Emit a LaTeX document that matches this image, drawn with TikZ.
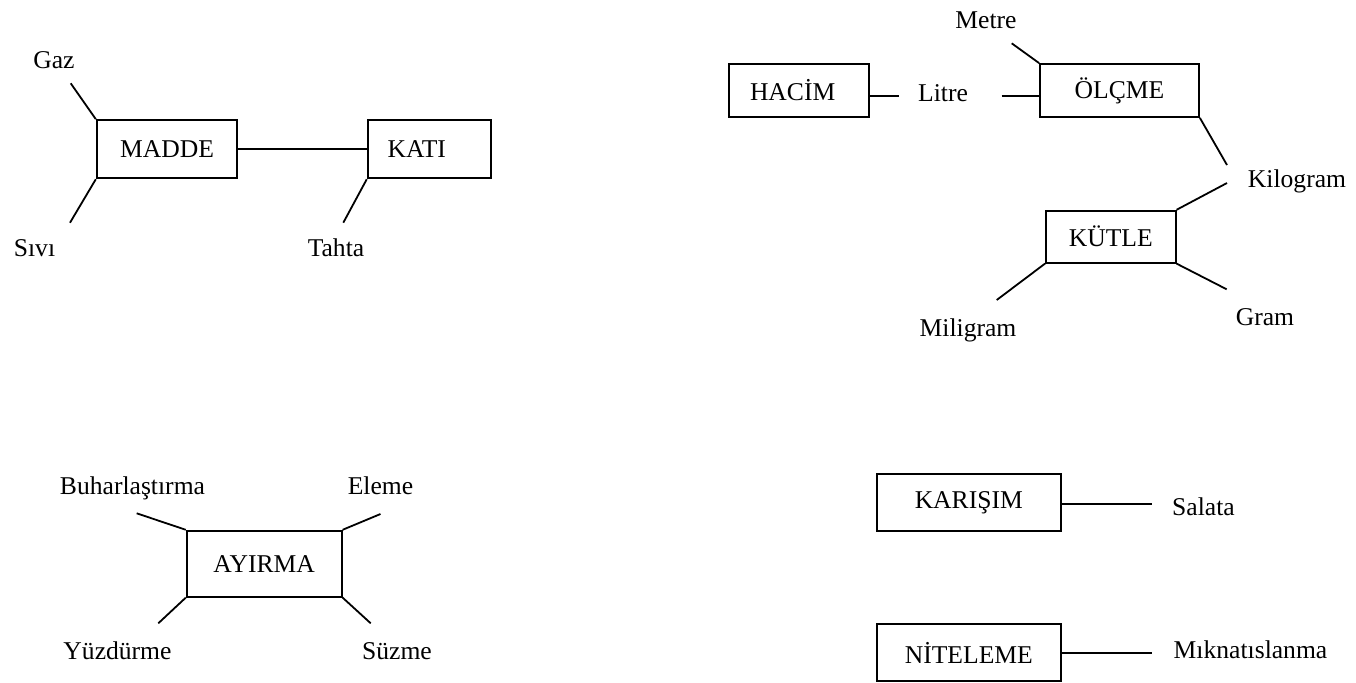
\documentclass[tikz,border=0pt]{standalone}
\usepackage{fontspec}
\setmainfont{Liberation Serif}
\newcommand\lbl{\fontsize{12.8}{15}\selectfont}
\tikzset{
  box/.style={draw, line width=0.9pt, inner sep=0pt, font=\lbl},
  leftbox/.style={box, align=left, inner xsep=#1*0.5pt},
  word/.style={inner sep=0pt, anchor=base, font=\lbl},
  link/.style={line width=0.9pt},
}
\begin{document}
\begin{tikzpicture}[x=0.5pt, y=-0.5pt]
\useasboundingbox (0,0) rectangle (1356,682);

% ---- MADDE / KATI ----
\node[box, minimum width=70.3pt, minimum height=29.15pt] (madde) at (167,149.2) {MADDE};
\node[leftbox=20, text width=41.65pt, minimum height=29.15pt] (kati) at (429.3,149.2) {KATI};
\node[word] (gaz) at (54,68) {Gaz};
\node[word] (sivi) at (34.5,256) {Sıvı};
\node[word] (tahta) at (336,256) {Tahta};
\coordinate (gazE) at (70.7,83.3);
\coordinate (siviE) at (70,222.7);
\coordinate (tahtaE) at (343.3,222.7);
\draw[link] (madde) -- (kati);
\draw[link] (madde.north west) -- (gazE);
\draw[link] (madde.south west) -- (siviE);
\draw[link] (kati.south west) -- (tahtaE);

% ---- HACİM / ÖLÇME / KÜTLE ----
\node[leftbox=21, text width=49pt, minimum height=26.5pt] (hacim) at (799,90.5) {HACİM};
\node[box, minimum width=79.5pt, minimum height=26.5pt] (olcme) at (1119.5,90.5) {ÖLÇME};
\node[box, minimum width=64.85pt, minimum height=26pt] (kutle) at (1110.8,236.7) {KÜTLE};
\node[word] (metre) at (986,28.3) {Metre};
\node[word] (litre) at (943,101.7) {Litre};
\node[word] (kilogram) at (1297,187) {Kilogram};
\node[word] (miligram) at (968,336) {Miligram};
\node[word] (gram) at (1265,325) {Gram};
\coordinate (metreE) at (1011.7,43.3);
\coordinate (litreL) at (899,95.7);
\coordinate (litreR) at (1001.7,95.7);
\coordinate (kiloA) at (1227,165);
\coordinate (kiloB) at (1227,183);
\coordinate (miliE) at (996.7,300);
\coordinate (gramE) at (1226.7,289.3);
\draw[link] (hacim.east |- litreL) -- (litreL);
\draw[link] (litreR) -- (olcme.west |- litreR);
\draw[link] (olcme.north west) -- (metreE);
\draw[link] (olcme.south east) -- (kiloA);
\draw[link] (kutle.north east) -- (kiloB);
\draw[link] (kutle.south west) -- (miliE);
\draw[link] (kutle.south east) -- (gramE);

% ---- AYIRMA ----
\node[box, minimum width=77.5pt, minimum height=33pt] (ayirma) at (264.2,563.7) {AYIRMA};
\node[word] (buhar) at (132.5,494) {Buharlaştırma};
\node[word] (eleme) at (380.5,494) {Eleme};
\node[word] (yuzdurme) at (117.5,659) {Yüzdürme};
\node[word] (suzme) at (397,659) {Süzme};
\coordinate (buharE) at (136.7,513.3);
\coordinate (elemeE) at (380.5,514);
\coordinate (yuzE) at (158.3,623.3);
\coordinate (suzE) at (370.7,623.3);
\draw[link] (ayirma.north west) -- (buharE);
\draw[link] (ayirma.north east) -- (elemeE);
\draw[link] (ayirma.south west) -- (yuzE);
\draw[link] (ayirma.south east) -- (suzE);

% ---- KARIŞIM / NİTELEME ----
\node[box, minimum width=91.85pt, minimum height=28.5pt] (karisim) at (968.8,502.5) {KARIŞIM};
\node[box, minimum width=91.85pt, minimum height=28.35pt] (niteleme) at (968.8,652.7) {NİTELEME};
\node[word] (salata) at (1203.5,515) {Salata};
\node[word] (miknatis) at (1250.5,658) {Mıknatıslanma};
\coordinate (salataE) at (1151.5,504);
\coordinate (miknatisE) at (1152,653.3);
\draw[link] (karisim.east |- salataE) -- (salataE);
\draw[link] (niteleme.east |- miknatisE) -- (miknatisE);
\end{tikzpicture}
\end{document}
